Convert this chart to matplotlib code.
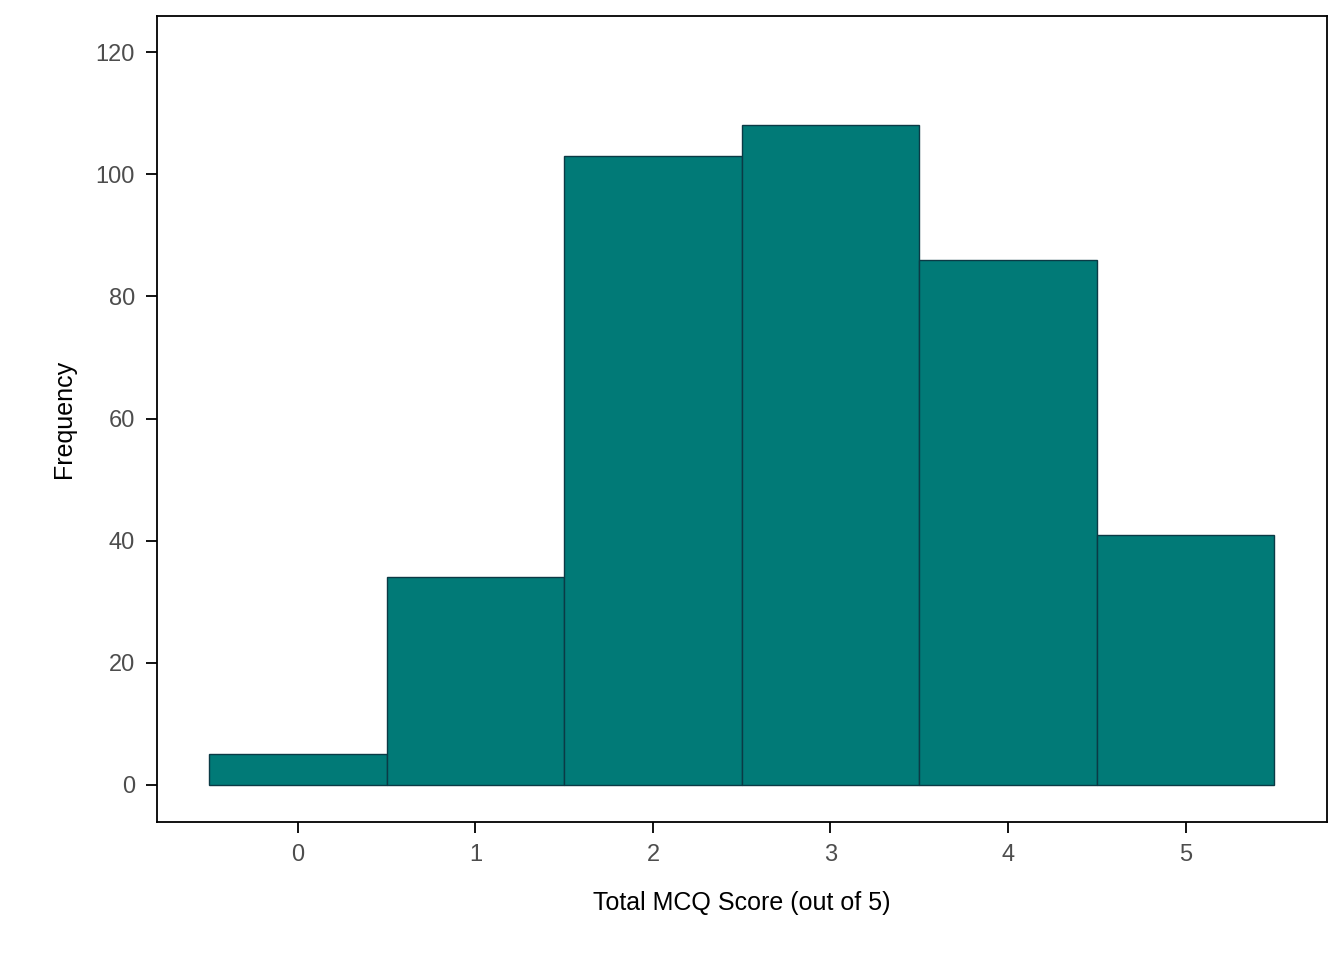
import matplotlib
matplotlib.use("Agg")
import matplotlib.pyplot as plt

scores = [0, 1, 2, 3, 4, 5]
freqs = [5, 34, 103, 108, 86, 41]
yticks = [0, 20, 40, 60, 80, 100, 120]

plt.rcParams['font.family'] = ['Liberation Sans', 'DejaVu Sans']
fig = plt.figure(figsize=(13.44, 9.6), dpi=100)
ax = fig.add_axes([157/1344, 1-822/960, (1327-157)/1344, (822-16)/960])
ax.bar(scores, freqs, width=1.0, color='#017A77', edgecolor='#0B3A45', linewidth=1.0)
ax.set_xlim(-0.794, 5.797)
ax.set_ylim(-6.06, 125.9)
ax.set_xticks(scores)
ax.set_yticks(yticks)
ax.tick_params(direction='out', length=8, width=1.3, labelsize=17, labelcolor='#4d4d4d', pad=8)
for s in ax.spines.values():
    s.set_linewidth(1.3)
ax.set_xlabel('Total MCQ Score (out of 5)', fontsize=18, labelpad=18)
ax.set_ylabel('Frequency', fontsize=18, labelpad=14)
fig.savefig('out.png', dpi=100)
